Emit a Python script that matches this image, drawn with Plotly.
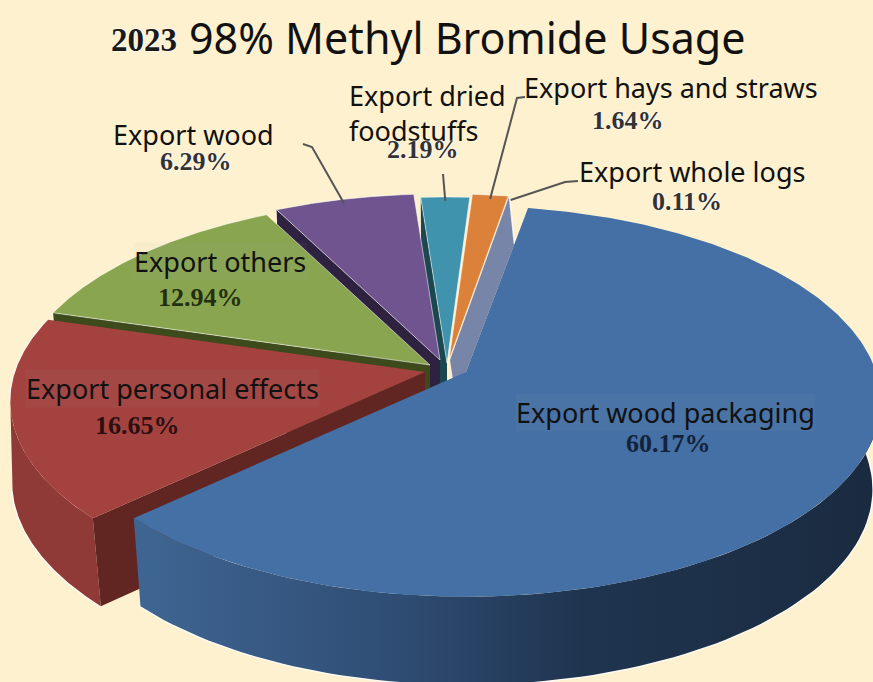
import numpy as np
import plotly.graph_objects as go

# Shares of methyl bromide use, clockwise from the first slice
categories = ["Export wood packaging", "Export personal effects", "Export others",
              "Export wood", "Export dried\nfoodstuffs", "Export hays and straws",
              "Export whole logs"]
shares = [60.17, 16.65, 12.94, 6.29, 2.19, 1.64, 0.11]
share_labels = ["60.17%", "16.65%", "12.94%", "6.29%", "2.19%", "1.64%", "0.11%"]

# Styling per slice
top_colors = ["#4470a6", "#a44240", "#89a550", "#6f5490", "#3f93ad", "#dc8139", "#7685a8"]
cut_colors = ["#2f4d74", "#622622", "#3d4a1c", "#2f2140", "#1c4650", "#8a4f20", "#7685a8"]
wall_colors = ["#2f4d74", "#8f3a36", "#3d4a1c", "#2f2140", "#1c4650", "#8a4f20", "#7685a8"]
value_colors = ["#14233a", "#2c0f0f", "#22300f", "#333333", "#333333", "#333333", "#333333"]
# Centre of each exploded slice on the canvas
hubs = [(466, 372), (425, 372), (430, 365), (440, 360), (447, 363), (449, 360), (450, 360)]

BG = "#fef1cf"
WIDTH, HEIGHT = 873, 682
RX, RY, TILT, DEPTH = 410, 191, 0.15, 88
START = 10.0
HALO_LINE = "rgba(255,255,255,0.85)"

# Cumulative slice angles in degrees, clockwise from twelve o'clock
edges = START + np.concatenate([[0], np.cumsum(shares)]) * 3.6


def project(theta, hub, depth=0.0, foot=0.98):
    """Perspective projection of a point on the rim of the tilted disc."""
    t = np.radians(theta)
    u, v = np.sin(t), -np.cos(t)
    w = 1 - TILT * v
    if depth:
        scale = foot if foot else 1 - 0.035 * np.maximum(v, 0)
    else:
        scale = 1.0
    return hub[0] + RX * u / w * scale, hub[1] + RY * v / w + depth


def arc(a, b, hub, depth=0.0, n=90, foot=0.98):
    return project(np.linspace(a, b, n), hub, depth, foot)


def polygon(xs, ys, color=None, line=None, width=0, gradient=None):
    kw = dict(x=list(xs), y=list(ys), mode="lines", fill="toself", hoverinfo="skip",
              showlegend=False, line=dict(color=line or "rgba(0,0,0,0)", width=width))
    if gradient:
        kw["fillgradient"] = gradient
    else:
        kw["fillcolor"] = color
    return go.Scatter(**kw)


def stroke(xs, ys, color, width):
    return go.Scatter(x=list(xs), y=list(ys), mode="lines", hoverinfo="skip", showlegend=False,
                      line=dict(color=color, width=width))


def top_face(i, outlined=True):
    hub = hubs[i]
    x, y = arc(edges[i], edges[i + 1], hub, n=240)
    if outlined:
        return polygon([hub[0], *x, hub[0]], [hub[1], *y, hub[1]], top_colors[i],
                       "rgba(255,255,255,0.55)", 1)
    return polygon([hub[0], *x, hub[0]], [hub[1], *y, hub[1]], top_colors[i])


def cut_face(i, foot=0.98):
    hub = hubs[i]
    x0, y0 = project(edges[i], hub)
    x1, y1 = project(edges[i], hub, DEPTH, foot)
    return polygon([x0, hub[0], hub[0], x1, x0],
                   [y0, hub[1], hub[1] + DEPTH, y1, y0], cut_colors[i])


def outer_wall(i, a, b, gradient=None, foot=0.98):
    """Rim of a slice, with a light hairline along its lower edge only."""
    hub = hubs[i]
    xt, yt = arc(a, b, hub)
    xb, yb = arc(b, a, hub, DEPTH, foot=foot)
    return [stroke(xb, yb, HALO_LINE, 2.5),
            polygon([*xt, *xb, xt[0]], [*yt, *yb, yt[0]], wall_colors[i], gradient=gradient)]


fig = go.Figure()

# Whole-logs sliver: a narrow strip between the hay slice and the main slice
hx, hy = hubs[6]
ox, oy = project(edges[6], hubs[6])
bx, by = hubs[0]
ex, ey = project(edges[0], hubs[0])
gx, gy = bx + (ex - bx) * 0.78, by + (ey - by) * 0.78
fig.add_trace(polygon([ox, hx, hx + 3, bx, gx, ox], [oy, hy, hy + 20, by, gy, oy], top_colors[6]))
fig.add_trace(stroke([ox, gx], [oy, gy], "rgba(255,255,255,0.8)", 1.5))

# Back slices, far to near
fig.add_trace(top_face(5))
for i in (4, 3, 2):
    fig.add_trace(cut_face(i))
    fig.add_trace(top_face(i))

# Red slice; the rim wall reaches the widest point of the tilted disc
fig.add_traces(outer_wall(1, edges[1], 261, foot=None))
fig.add_trace(cut_face(1, foot=None))
hairline_x, hairline_y = arc(261, edges[2], hubs[1])
fig.add_trace(stroke(hairline_x, hairline_y, HALO_LINE, 2))
fig.add_trace(top_face(1, outlined=False))

# Main slice with a shaded rim
rim = dict(type="horizontal",
           colorscale=[[0, "#3f6693"], [0.35, "#2f4d74"], [0.6, "#1f344f"], [1, "#1a2b40"]])
fig.add_traces(outer_wall(0, 88, edges[1], rim))
fig.add_trace(top_face(0, outlined=False))

# Leader lines run from each outside label to its slice rim
leaders = {3: [(303, 144), (312, 147)], 4: [(443, 174)],
           5: [(525, 97), (517, 98)], 6: [(578, 181), (565, 182)]}
for i, pts in leaders.items():
    lx, ly = project((edges[i] + edges[i + 1]) / 2, hubs[i])
    fig.add_trace(stroke([p[0] for p in pts] + [lx], [p[1] for p in pts] + [ly + 4], "#555555", 2))

SANS, SERIF = "Noto Sans", "Liberation Serif"
HALO = "0 0 2px #ffffff, 0 0 2px #ffffff"
label_pos = [(665, 412), (172, 388), (220, 261), (193, 134), (427, 113), (671, 87), (692, 171)]
value_pos = [(668, 443), (137, 425), (200, 297), (196, 161), (423, 149), (628, 120), (687, 201)]
BAND = "rgba(170,170,170,0.06)"


def note(x, y, text, family, size, color="#111111", bgcolor=None, align="center", **kw):
    fig.add_annotation(x=x, y=y, text=text, showarrow=False, xanchor="center", yanchor="middle",
                       align=align, bgcolor=bgcolor, borderpad=0,
                       font=dict(family=family, size=size, color=color, **kw))


for i, (name, value) in enumerate(zip(categories, share_labels)):
    lx, ly = label_pos[i]
    vx, vy = value_pos[i]
    on_slice = i < 3
    note(lx, ly, name.replace("\n", "<br>"), SANS, 27,
         bgcolor=BAND if on_slice else None, align="left")
    extra = {} if on_slice else {"shadow": HALO}
    note(vx, vy, "<b>%s</b>" % value, SERIF, 26, value_colors[i], **extra)

note(144, 40, "<b>2023</b>", SERIF, 33, "#1a1a1a", shadow=HALO)
note(467, 37, "98% Methyl Bromide Usage", SANS, 43)

hidden = dict(visible=False, fixedrange=True)
fig.update_layout(
    width=WIDTH, height=HEIGHT, margin=dict(l=0, r=0, t=0, b=0),
    paper_bgcolor=BG, plot_bgcolor=BG, showlegend=False,
    xaxis=dict(range=[0, WIDTH], **hidden),
    yaxis=dict(range=[HEIGHT, 0], **hidden),
)
fig.write_html("out.html", config={"displayModeBar": False})
